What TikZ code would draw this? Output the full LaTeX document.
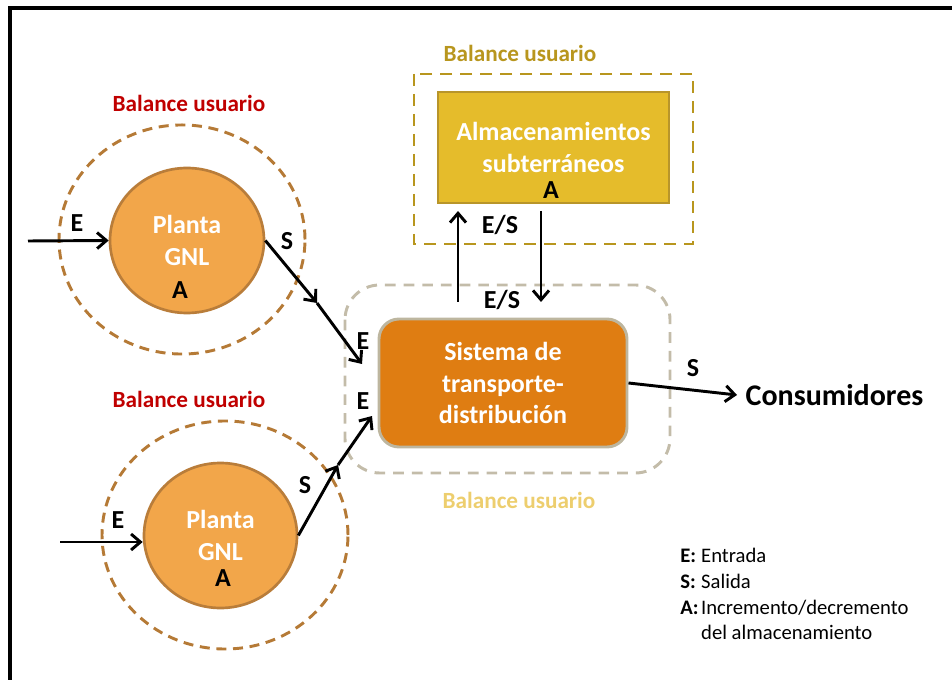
\documentclass[tikz,border=0pt]{standalone}
\usepackage{fontspec}
\setmainfont{Carlito}
\usetikzlibrary{arrows.meta,shapes.geometric}

\definecolor{plantaFondo}{HTML}{F2A64A}
\definecolor{plantaBorde}{HTML}{B97D3A}
\definecolor{balanceMarron}{HTML}{B57A36}
\definecolor{rojoTitulo}{HTML}{C00000}
\definecolor{sistemaFondo}{HTML}{DF7D12}
\definecolor{sistemaBorde}{HTML}{BDB69F}
\definecolor{grisBalance}{HTML}{C3BCA9}
\definecolor{tanTitulo}{HTML}{EDCE6E}
\definecolor{almacenFondo}{HTML}{E5BC2B}
\definecolor{almacenBorde}{HTML}{B8952A}
\definecolor{oroBalance}{HTML}{B8961E}

\tikzset{
	planta/.style={ellipse, draw=plantaBorde, fill=plantaFondo, line width=2pt, inner sep=0pt,
		text=white, align=center, font=\bfseries\fontsize{19.5}{24}\selectfont},
	balance/.style={draw=balanceMarron, line width=2.2pt, dash pattern=on 7.5pt off 5pt},
	etiqueta/.style={font=\bfseries\fontsize{19.5}{22}\selectfont},
	titulo/.style={font=\bfseries\fontsize{17.4}{20}\selectfont},
	flecha/.style={->, line width=2.2pt},
}

\begin{document}
\begin{tikzpicture}[x=0.75pt, y=-0.75pt, >={Straight Barb[length=7pt,width=12pt]}]
	\useasboundingbox (0,0) rectangle (952,680);
	\draw[line width=2.4pt] (10,680) -- (10,8) -- (952,8);

	% planta de arriba
	\draw[balance] (182,239.5) ellipse [x radius=92.25pt, y radius=85.9pt];
	\node[titulo, text=rojoTitulo] (balA) at (189,103) {Balance usuario};
	\node[planta, minimum width=115.5pt, minimum height=108.75pt] (plantaA) at (187,240.5) {Planta\\GNL};
	\node[etiqueta] (aA) at (180,290) {A};

	% planta de abajo
	\draw[balance] (225,535) ellipse [x radius=92.25pt, y radius=85.5pt];
	\node[titulo, text=rojoTitulo] (balB) at (189,399) {Balance usuario};
	\node[planta, minimum width=114.75pt, minimum height=108.75pt] (plantaB) at (220.5,535.5) {Planta\\GNL};
	\node[etiqueta] (aB) at (223,578) {A};

	% almacenamiento
	\draw[draw=oroBalance, line width=2.2pt, dash pattern=on 9pt off 6pt] (414,74) rectangle (693,244);
	\node[titulo, text=oroBalance] (balC) at (520,53) {Balance usuario};
	\node[draw=almacenBorde, fill=almacenFondo, line width=2pt, minimum width=173.25pt, minimum height=83.25pt,
		text=white, align=center, font=\bfseries\fontsize{19.5}{24}\selectfont] (almacen) at (553.5,147.5) {Almacenamientos\\subterráneos};
	\node[etiqueta] (aC) at (551,190) {A};

	% sistema
	\draw[draw=grisBalance, line width=2.2pt, dash pattern=on 8pt off 6pt, rounded corners=26pt] (345,285) rectangle (670,473);
	\node[titulo, text=tanTitulo] (balD) at (519,500) {Balance usuario};
	\node[draw=sistemaBorde, fill=sistemaFondo, line width=2.2pt, rounded corners=15pt, minimum width=186pt, minimum height=96pt,
		text=white, align=center, font=\bfseries\fontsize{19.5}{23.6}\selectfont] (sistema) at (503,383) {Sistema de\\transporte-\\distribución};

	\node[anchor=west, font=\bfseries\fontsize{22.5}{26}\selectfont] (consumo) at (741,395) {Consumidores};

	% flechas
	\coordinate (entA) at (28,241);
	\coordinate (medA) at (317,303);
	\coordinate (finA) at (362,364);
	\coordinate (entB) at (60,542);
	\coordinate (medB) at (338,465);
	\coordinate (finB) at (372,416);
	\coordinate (subida) at (458,302);
	\coordinate (bajada) at (541,302);

	\draw[flecha] (entA) -- (plantaA.west);
	\draw[flecha] (plantaA.east) -- (medA);
	\draw[flecha] (medA) -- (finA);
	\draw[flecha] (entB) -- (entB -| plantaB.west);
	\draw[flecha] (plantaB.east) -- (medB);
	\draw[flecha] (medB) -- (finB);
	\draw[flecha, shorten >=5pt] (subida) -- (subida |- almacen.south);
	\draw[flecha, shorten <=5pt] (bajada |- almacen.south) -- (bajada);
	\draw[flecha] (sistema.east) -- ([xshift=-3pt]consumo.west);

	\node[etiqueta] (eA) at (77,223) {E};
	\node[etiqueta] (sA) at (287,241) {S};
	\node[etiqueta] (eB) at (118,520) {E};
	\node[etiqueta] (sB) at (305,485) {S};
	\node[etiqueta] (eC) at (363,341) {E};
	\node[etiqueta] (eD) at (363,401) {E};
	\node[etiqueta] (esA) at (500,225) {E/S};
	\node[etiqueta] (esB) at (502,300) {E/S};
	\node[etiqueta] (sC) at (693,368) {S};

	% leyenda
	\node[anchor=west, inner sep=0pt, font=\fontsize{15.5}{19.3}\selectfont] (leyenda) at (680,596) {%
		\begin{tabular}{@{}l@{\hspace{2pt}}l@{}}
			\textbf{E:} & Entrada\\
			\textbf{S:} & Salida\\
			\textbf{A:} & Incremento/decremento\\
			 & del almacenamiento
		\end{tabular}};
\end{tikzpicture}
\end{document}
